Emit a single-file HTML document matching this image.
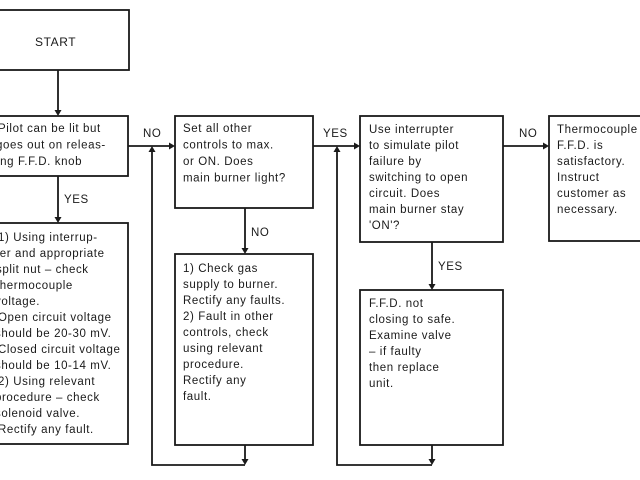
<!DOCTYPE html>
<html><head><meta charset="utf-8"><style>
html,body{margin:0;padding:0;background:#fff;}
svg{display:block;}
text{font-family:"Liberation Sans",sans-serif;font-size:11.5px;letter-spacing:0.6px;fill:#1a1a1a;}
</style></head><body>
<svg width="640" height="480" viewBox="0 0 640 480" xmlns="http://www.w3.org/2000/svg">
<g fill="none" stroke="#1a1a1a" stroke-width="1.8">
<rect x="-10" y="10" width="139" height="60"/>
<rect x="-10" y="116" width="138" height="60"/>
<rect x="-10" y="223" width="138" height="221"/>
<rect x="175" y="116" width="138" height="92"/>
<rect x="175" y="254" width="138" height="191"/>
<rect x="360" y="116" width="143" height="126"/>
<rect x="360" y="290" width="143" height="155"/>
<rect x="549" y="116" width="110" height="125"/>
<path d="M58 70V112M58 176V219M128 146H171M245 208V250M245 445V461M245 465H152V150M313 146H356M503 146H545M432 242V286M432 445V461M432 465H337V150"/>
</g>
<g fill="#1a1a1a">
<path d="M54.5 110L58 116L61.5 110Z"/>
<path d="M54.5 217L58 223L61.5 217Z"/>
<path d="M169 142.5L175 146L169 149.5Z"/>
<path d="M241.5 248L245 254L248.5 248Z"/>
<path d="M241.5 459L245 465L248.5 459Z"/>
<path d="M148.5 152L152 146L155.5 152Z"/>
<path d="M354 142.5L360 146L354 149.5Z"/>
<path d="M543 142.5L549 146L543 149.5Z"/>
<path d="M428.5 284L432 290L435.5 284Z"/>
<path d="M428.5 459L432 465L435.5 459Z"/>
<path d="M333.5 152L337 146L340.5 152Z"/>
</g>
<text x="35" y="46" style="font-size:12px">START</text>
<text x="-2" y="132">Pilot can be lit but</text>
<text x="-4" y="148.5">goes out on releas-</text>
<text x="-3" y="165">ing F.F.D. knob</text>
<text x="64" y="203">YES</text>
<text x="143" y="137">NO</text>
<text x="251" y="236">NO</text>
<text x="323" y="137">YES</text>
<text x="519" y="137">NO</text>
<text x="438" y="270">YES</text>
<text x="-2" y="241">1)  Using interrup-</text>
<text x="-4" y="257">ter and appropriate</text>
<text x="-4" y="273">split nut – check</text>
<text x="-4" y="289">thermocouple</text>
<text x="-5" y="305">voltage.</text>
<text x="-2" y="321">Open circuit voltage</text>
<text x="-5" y="337">should be 20-30 mV.</text>
<text x="-2" y="353">Closed circuit voltage</text>
<text x="-5" y="369">should be 10-14 mV.</text>
<text x="-2" y="385">2)  Using relevant</text>
<text x="-5" y="401">procedure – check</text>
<text x="-5" y="417">solenoid valve.</text>
<text x="-2" y="433">Rectify any fault.</text>
<text x="183" y="132">Set all other</text>
<text x="183" y="148.5">controls to max.</text>
<text x="183" y="165">or ON. Does</text>
<text x="183" y="181.5">main burner light?</text>
<text x="183" y="272">1)  Check gas</text>
<text x="183" y="288">supply to burner.</text>
<text x="183" y="304">Rectify any faults.</text>
<text x="183" y="320">2)  Fault in other</text>
<text x="183" y="336">controls, check</text>
<text x="183" y="352">using relevant</text>
<text x="183" y="368">procedure.</text>
<text x="183" y="384">Rectify any</text>
<text x="183" y="400">fault.</text>
<text x="369" y="133">Use interrupter</text>
<text x="369" y="149">to simulate pilot</text>
<text x="369" y="165">failure by</text>
<text x="369" y="181">switching to open</text>
<text x="369" y="197">circuit. Does</text>
<text x="369" y="213">main burner stay</text>
<text x="369" y="229">'ON'?</text>
<text x="557" y="133">Thermocouple</text>
<text x="557" y="149">F.F.D. is</text>
<text x="557" y="165">satisfactory.</text>
<text x="557" y="181">Instruct</text>
<text x="557" y="197">customer as</text>
<text x="557" y="213">necessary.</text>
<text x="369" y="307">F.F.D. not</text>
<text x="369" y="323">closing to safe.</text>
<text x="369" y="339">Examine valve</text>
<text x="369" y="355">– if faulty</text>
<text x="369" y="371">then replace</text>
<text x="369" y="387">unit.</text>
</svg>
</body></html>
